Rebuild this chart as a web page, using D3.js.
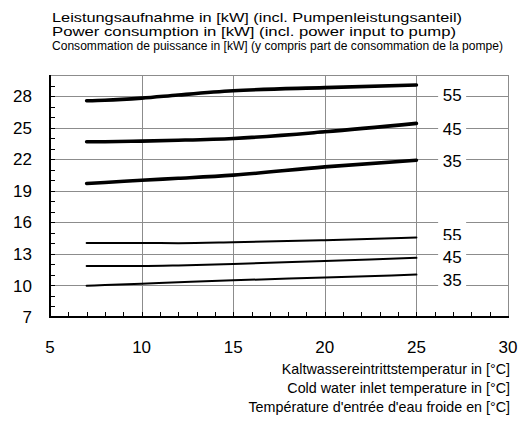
<!DOCTYPE html>
<html>
<head>
<meta charset="utf-8">
<script src="https://cdn.jsdelivr.net/npm/d3@7"></script>
<style>
  body { margin: 0; background: #fff; overflow: hidden; }
  svg { display: block; }
  text { font-family: "Liberation Sans", Arial, sans-serif; fill: #000; }
</style>
</head>
<body>
<div id="chart"></div>
<script>
// Data (x = cold water inlet temperature, y = power consumption kW)
const temps = [7, 8, 10, 12, 15, 20, 25];
const seriesNames = ['55', '45', '35', '55', '45', '35'];
const heavy = [true, true, true, false, false, false];
const values = [
  [27.55, 27.6, 27.8, 28.1, 28.5, 28.8, 29.05],
  [23.65, 23.66, 23.72, 23.8, 23.97, 24.6, 25.4],
  [19.69, 19.78, 20.0, 20.18, 20.48, 21.27, 21.9],
  [14.04, 14.04, 14.04, 14.02, 14.1, 14.3, 14.55],
  [11.85, 11.85, 11.85, 11.9, 12.04, 12.33, 12.62],
  [9.98, 10.04, 10.17, 10.3, 10.49, 10.75, 11.03]
];
const labelValues = [28.1, 24.9, 21.8, 14.8, 12.7, 10.5];
const yTicks = [7, 10, 13, 16, 19, 22, 25, 28];
const xTicks = [5, 10, 15, 20, 25, 30];
const titleLines = [
  'Leistungsaufnahme in [kW] (incl. Pumpenleistungsanteil)',
  'Power consumption in [kW] (incl. power input to pump)',
  'Consommation de puissance in [kW] (y compris part de consommation de la pompe)'
];
const xTitleLines = [
  'Kaltwassereintrittstemperatur in [°C]',
  'Cold water inlet temperature in [°C]',
  "Température d'entrée d'eau froide en [°C]"
];

const width = 520, height = 424;
const margin = {top: 75, right: 12, bottom: 107, left: 50};

const svg = d3.select('#chart').append('svg')
  .attr('width', width)
  .attr('height', height);

const x = d3.scaleLinear().domain([5, 30]).range([margin.left, width - margin.right]);
const y = d3.scaleLinear().domain([7, 30]).range([height - margin.bottom, margin.top]);

const gridColor = '#8c8c8c';
const px = v => Math.round(v);

// Gridlines: solid 1px rects on whole pixels
const gridG = svg.append('g')
    .attr('fill', gridColor)
    .attr('shape-rendering', 'crispEdges');
gridG.selectAll('rect.h')
  .data(yTicks.slice(1).concat([30]))
  .join('rect')
    .attr('class', 'h')
    .attr('x', px(x(5)))
    .attr('y', d => px(y(d)))
    .attr('width', px(x(30)) - px(x(5)) + 1)
    .attr('height', 1);
gridG.selectAll('rect.v')
  .data(xTicks.slice(1))
  .join('rect')
    .attr('class', 'v')
    .attr('x', d => px(x(d)))
    .attr('y', px(y(30)))
    .attr('width', 1)
    .attr('height', px(y(7)) - px(y(30)));

// Minor ticks pointing inward
const ticks = svg.append('g')
    .attr('fill', '#000')
    .attr('shape-rendering', 'crispEdges');
ticks.selectAll('rect.ty')
  .data(d3.range(8, 30))
  .join('rect')
    .attr('class', 'ty')
    .attr('x', px(x(5)))
    .attr('y', d => px(y(d)))
    .attr('width', 5)
    .attr('height', 1);
ticks.selectAll('rect.tx')
  .data(d3.range(6, 30))
  .join('rect')
    .attr('class', 'tx')
    .attr('x', d => px(x(d)))
    .attr('y', px(y(7)) - 5)
    .attr('width', 1)
    .attr('height', 5);

// Axis lines
svg.append('rect')
  .attr('x', px(x(5)) - 1).attr('y', px(y(30)))
  .attr('width', 2).attr('height', px(y(7)) - px(y(30)) + 1)
  .attr('fill', '#000')
  .attr('shape-rendering', 'crispEdges');
svg.append('rect')
  .attr('x', px(x(5)) - 1).attr('y', px(y(7)) - 1)
  .attr('width', px(x(30)) - px(x(5)) + 2).attr('height', 2)
  .attr('fill', '#000')
  .attr('shape-rendering', 'crispEdges');

// Tick labels
svg.append('g')
  .selectAll('text')
  .data(yTicks)
  .join('text')
    .attr('x', 32)
    .attr('y', d => y(d))
    .attr('dy', '0.36em')
    .attr('text-anchor', 'end')
    .attr('font-size', 17)
    .text(d => d);
svg.append('g')
  .selectAll('text')
  .data(xTicks)
  .join('text')
    .attr('x', d => x(d))
    .attr('y', 353)
    .attr('text-anchor', 'middle')
    .attr('font-size', 17)
    .text(d => d);

// Curves
const curve = d3.line()
  .x((d, i) => x(temps[i]))
  .y(d => y(d))
  .curve(d3.curveMonotoneX);

svg.append('g')
    .attr('fill', 'none')
  .selectAll('path')
  .data(values)
  .join('path')
    .attr('d', curve)
    .attr('stroke', '#000')
    .attr('stroke-width', (d, i) => heavy[i] ? 3.6 : 2)
    .attr('stroke-linecap', 'round');

// Curve labels with white background
const labels = svg.append('g')
  .selectAll('g')
  .data(seriesNames)
  .join('g')
    .attr('transform', (d, i) => `translate(${x(26.95)},${y(labelValues[i])})`);
labels.append('rect')
  .attr('x', -14).attr('y', -17)
  .attr('width', 28).attr('height', 27)
  .attr('fill', '#fff');
labels.append('text')
  .attr('text-anchor', 'middle')
  .attr('dy', '0.36em')
  .attr('font-size', 17)
  .text(d => d);

// Titles
svg.append('g')
  .selectAll('text')
  .data(titleLines)
  .join('text')
    .attr('x', 52)
    .attr('y', (d, i) => [22, 36, 50][i])
    .attr('font-size', (d, i) => i < 2 ? 13.2 : 12)
    .attr('textLength', (d, i) => [410, 404, 451][i])
    .attr('lengthAdjust', 'spacingAndGlyphs')
    .text(d => d);

svg.append('g')
  .selectAll('text')
  .data(xTitleLines)
  .join('text')
    .attr('x', 510)
    .attr('y', (d, i) => 374 + i * 19)
    .attr('text-anchor', 'end')
    .attr('font-size', 14.3)
    .text(d => d);
</script>
</body>
</html>
